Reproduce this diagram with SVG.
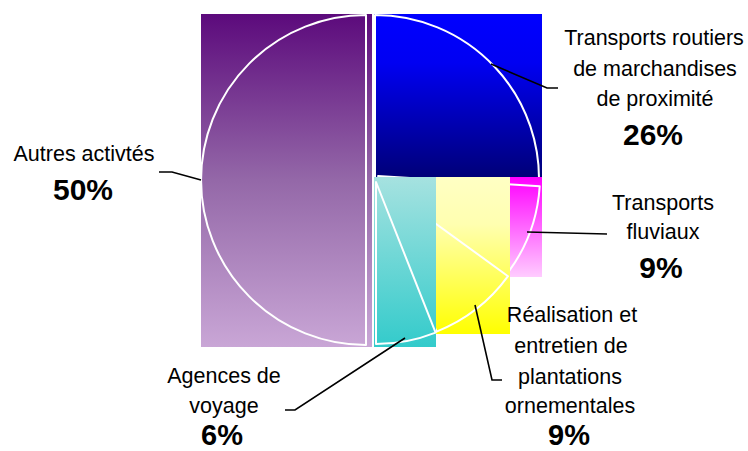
<svg xmlns="http://www.w3.org/2000/svg" width="748" height="451" viewBox="0 0 748 451">
<defs>
<linearGradient id="gPurple" x1="0" y1="0" x2="0" y2="1"><stop offset="0" stop-color="#5c0a7c"/><stop offset="0.5" stop-color="#9468a8"/><stop offset="1" stop-color="#c9a6d6"/></linearGradient>
<linearGradient id="gBlue" x1="0" y1="0" x2="0" y2="1"><stop offset="0" stop-color="#0000ff"/><stop offset="0.3" stop-color="#0000f2"/><stop offset="1" stop-color="#000078"/></linearGradient>
<linearGradient id="gCyan" x1="0" y1="0" x2="0" y2="1"><stop offset="0" stop-color="#a6e2e0"/><stop offset="1" stop-color="#33cbcb"/></linearGradient>
<linearGradient id="gYellow" x1="0" y1="0" x2="0" y2="1"><stop offset="0" stop-color="#ffffc4"/><stop offset="0.3" stop-color="#ffffb0"/><stop offset="1" stop-color="#ffff00"/></linearGradient>
<linearGradient id="gMagenta" x1="0" y1="0" x2="0" y2="1"><stop offset="0" stop-color="#ff00ff"/><stop offset="1" stop-color="#ffccff"/></linearGradient>
</defs>
<style>
.edge{fill:none;stroke:#ffffff;stroke-width:2;stroke-linejoin:round}
.lead{fill:none;stroke:#000000;stroke-width:1.6}
.lbl{font-family:"Liberation Sans",Arial,sans-serif;font-size:21.5px;fill:#000;text-anchor:middle}
.pct{font-family:"Liberation Sans",Arial,sans-serif;font-size:30px;font-weight:bold;fill:#000;text-anchor:middle}
.pcb{font-size:29px}
</style>
<g id="slice-autres">
<rect x="201" y="14" width="171" height="333" fill="url(#gPurple)"/>
<path class="edge" d="M366,345 L366,15 A165,165 0 0 0 366,345 Z"/>
</g>
<g id="slice-routiers">
<rect x="374" y="14" width="168" height="163" fill="url(#gBlue)"/>
<path class="edge" d="M375,179 L375,15 A164,164 0 0 1 538.7,189.3 Z"/>
</g>
<g id="slice-fluviaux">
<rect x="510" y="177" width="32" height="100" fill="url(#gMagenta)"/>
<path class="edge" d="M378,176 L539.7,186.2 A162,162 0 0 1 509,271.2 Z"/>
</g>
<g id="slice-plantations">
<rect x="436" y="177" width="74" height="157" fill="url(#gYellow)"/>
<path class="edge" d="M377,181 L508,276.2 A162,162 0 0 1 436.6,331.6 Z"/>
</g>
<g id="slice-agences">
<rect x="374" y="177" width="62" height="170" fill="url(#gCyan)"/>
<path class="edge" d="M376,182 L435.6,332.6 A162,162 0 0 1 376,344 Z"/>
</g>
<g id="connectors">
<polyline class="lead" points="491,64 547,88 558,88"/>
<polyline class="lead" points="527,232 607,234"/>
<polyline class="lead" points="475,305 492,380 502,380"/>
<polyline class="lead" points="405,338 295,410 285,410"/>
<polyline class="lead" points="159,172 172,172 201,180"/>
</g>
<g id="label-routiers">
<text class="lbl" x="654" y="45">Transports routiers</text>
<text class="lbl" x="655" y="76">de marchandises</text>
<text class="lbl" x="655" y="106">de proximité</text>
<text class="pct" x="653" y="145">26%</text>
</g>
<g id="label-autres">
<text class="lbl" x="84" y="161">Autres activtés</text>
<text class="pct" x="83" y="200">50%</text>
</g>
<g id="label-fluviaux">
<text class="lbl" x="663" y="210">Transports</text>
<text class="lbl" x="663" y="239">fluviaux</text>
<text class="pct" x="661" y="278">9%</text>
</g>
<g id="label-plantations">
<text class="lbl" x="572" y="322">Réalisation et</text>
<text class="lbl" x="571" y="353">entretien de</text>
<text class="lbl" x="570" y="384">plantations</text>
<text class="lbl" x="570" y="413">ornementales</text>
<text class="pct pcb" x="569" y="444.5">9%</text>
</g>
<g id="label-agences">
<text class="lbl" x="224" y="383">Agences de</text>
<text class="lbl" x="224" y="413">voyage</text>
<text class="pct pcb" x="222" y="444.5">6%</text>
</g>
</svg>
